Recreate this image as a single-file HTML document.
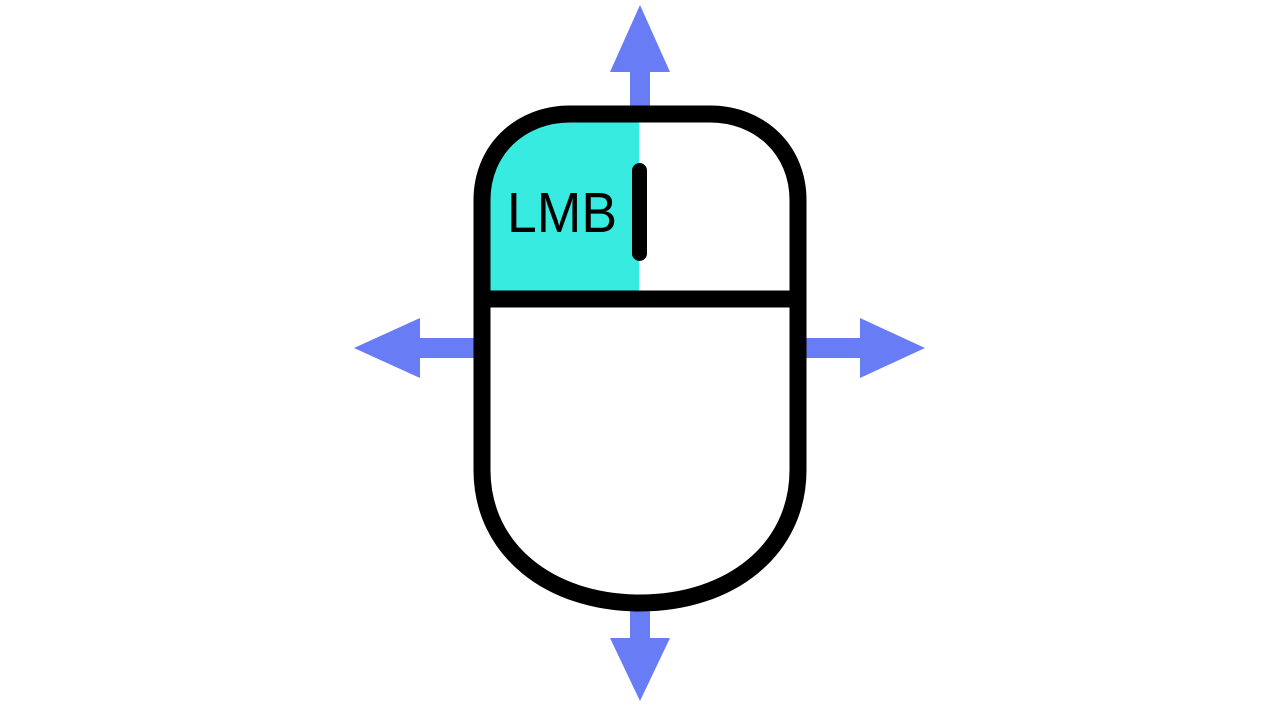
<!DOCTYPE html>
<html><head><style>html,body{margin:0;padding:0;background:#fff;}svg{display:block}</style></head>
<body>
<svg width="1280" height="720" viewBox="0 0 1280 720" xmlns="http://www.w3.org/2000/svg">
  <g fill="#677cf5">
    <rect x="630" y="66" width="20" height="44"/>
    <polygon points="640,5 670,72 610,72"/>
    <rect x="630" y="606" width="20" height="36"/>
    <polygon points="640,701 670,638 610,638"/>
    <rect x="414" y="338" width="64" height="20"/>
    <polygon points="354,348 420,318 420,378"/>
    <rect x="802" y="338" width="64" height="20"/>
    <polygon points="925,348 860,318 860,378"/>
  </g>
  <path d="M482,200 C482,150 520,114 570,114 L710,114 C760,114 798,150 798,200 L798,470 C798,550 730,603 640,603 C550,603 482,550 482,470 Z" fill="#fff"/>
  <path d="M482,200 C482,150 520,114 570,114 L639,114 L639,299 L482,299 Z" fill="#38ebe0"/>
  <path d="M482,200 C482,150 520,114 570,114 L710,114 C760,114 798,150 798,200 L798,470 C798,550 730,603 640,603 C550,603 482,550 482,470 Z" fill="none" stroke="#000" stroke-width="17"/>
  <line x1="482" y1="299" x2="798" y2="299" stroke="#000" stroke-width="17"/>
  <rect x="632" y="163" width="15" height="98" rx="7.5" fill="#000"/>
  <text x="507" y="232" font-family="Liberation Sans, sans-serif" font-size="57" textLength="110" lengthAdjust="spacingAndGlyphs" fill="#000">LMB</text>
</svg>
</body></html>
